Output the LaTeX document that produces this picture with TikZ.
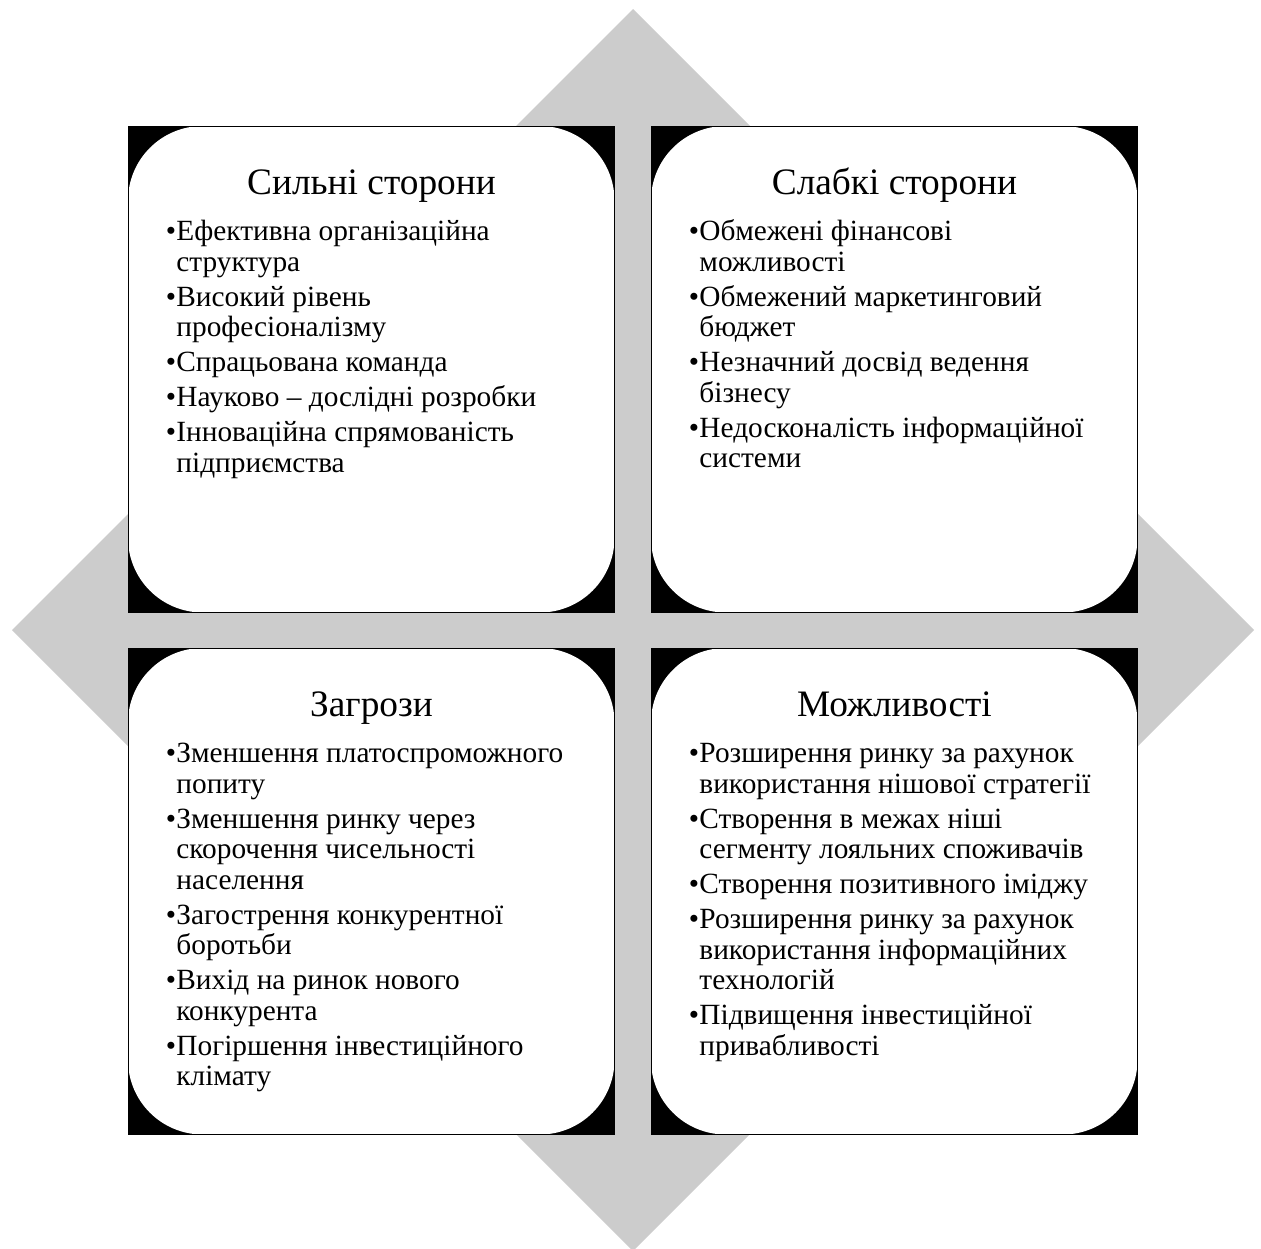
\documentclass[tikz,border=0pt]{standalone}
\usepackage{fontspec}
\setmainfont{Liberation Serif}
\definecolor{dgray}{RGB}{204,204,204}
\newcommand\bl{\makebox[8pt][l]{•}}
\newcommand\ind{\hspace*{8pt}}
\newcommand\nx{\\[3.4pt]}
\tikzset{
  quadbg/.style={fill=black},
  quadfg/.style={fill=white, rounded corners=56pt},
  quadline/.style={draw=black, line width=0.6pt},
  qtitle/.style={anchor=base, inner sep=0pt, font=\fontsize{28}{33}\selectfont},
  qitems/.style={anchor=base west, inner sep=0pt, font=\fontsize{22}{22.875}\selectfont},
}
\newcommand\quadrant[5]{%
  \fill[quadbg] (#2,#3) rectangle ++(486.5,486.5);
  \fill[quadfg] (#2,#3) rectangle ++(486.5,486.5);
  \draw[quadline] (#2,#3) rectangle ++(486.5,486.5);
  \node[qtitle] (#1title) at ({#2+243.5},{#3+68.5}) {#4};
  \node[qitems] (#1items) at ({#2+37.5},{#3+114.5}) {\parbox[t]{360pt}{\raggedright #5}};
}
\begin{document}
\begin{tikzpicture}[x=0.75pt,y=-0.75pt]
\useasboundingbox (0,0) rectangle (1261,1249);
\clip (0,0) rectangle (1261,1249);
\fill[dgray] (633,9) -- (1254,630) -- (633,1251) -- (12,630) -- cycle;
\quadrant{s}{128}{126}{Сильні сторони}{%
\bl Ефективна організаційна\\\ind структура\nx
\bl Високий рівень\\\ind професіоналізму\nx
\bl Спрацьована команда\nx
\bl Науково – дослідні розробки\nx
\bl Інноваційна спрямованість\\\ind підприємства}
\quadrant{w}{651}{126}{Слабкі сторони}{%
\bl Обмежені фінансові\\\ind можливості\nx
\bl Обмежений маркетинговий\\\ind бюджет\nx
\bl Незначний досвід ведення\\\ind бізнесу\nx
\bl Недосконалість інформаційної\\\ind системи}
\quadrant{t}{128}{648}{Загрози}{%
\bl Зменшення платоспроможного\\\ind попиту\nx
\bl Зменшення ринку через\\\ind скорочення чисельності\\\ind населення\nx
\bl Загострення конкурентної\\\ind боротьби\nx
\bl Вихід на ринок нового\\\ind конкурента\nx
\bl Погіршення інвестиційного\\\ind клімату}
\quadrant{o}{651}{648}{Можливості}{%
\bl Розширення ринку за рахунок\\\ind використання нішової стратегії\nx
\bl Створення в межах ніші\\\ind сегменту лояльних споживачів\nx
\bl Створення позитивного іміджу\nx
\bl Розширення ринку за рахунок\\\ind використання інформаційних\\\ind технологій\nx
\bl Підвищення інвестиційної\\\ind привабливості}
\end{tikzpicture}
\end{document}
